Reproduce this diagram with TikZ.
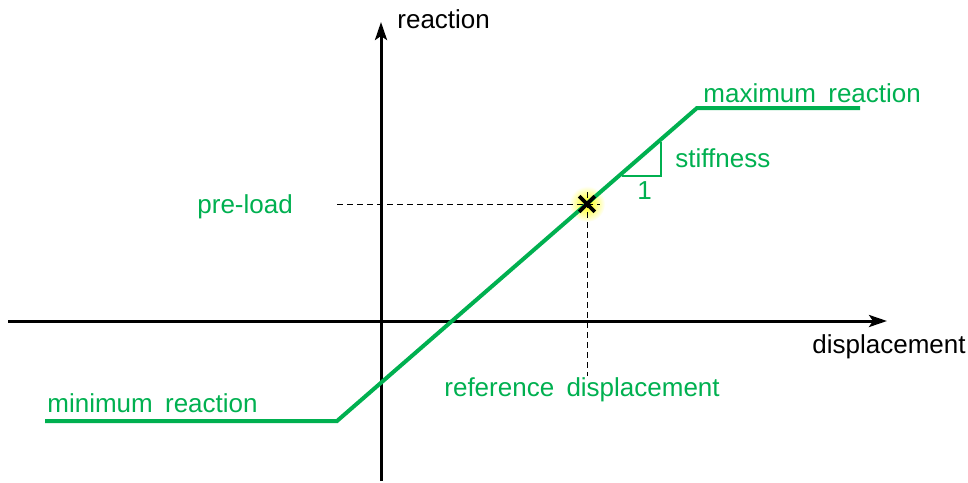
\documentclass[tikz,border=0pt]{standalone}
\usepackage{fontspec}
\setmainfont[WordSpace=1.7]{Liberation Sans}
\usetikzlibrary{arrows.meta, shapes.misc}
\definecolor{curvegreen}{RGB}{0,176,80}
\tikzstyle{axis} = [black, line width=1.5pt, -{Stealth[length=9pt, width=6pt, inset=2pt]}]
\tikzstyle{curve} = [curvegreen, line width=2pt]
\tikzstyle{slope} = [curvegreen, line width=0.6pt]
\tikzstyle{guide} = [black, line width=0.5pt, dash pattern=on 3pt off 2pt]
\tikzstyle{greenlabel} = [text=curvegreen, inner sep=0pt, anchor=base west]
\tikzstyle{blacklabel} = [text=black, inner sep=0pt, anchor=base west]
\tikzstyle{refmark} = [draw=black, cross out, line width=1.8pt, minimum size=6pt, inner sep=0pt]

\begin{document}
\begin{tikzpicture}[x=0.5pt, y=-0.5pt, font=\fontsize{13}{15}\selectfont]

\useasboundingbox (0,0) rectangle (968,482);

\coordinate (ybot) at (381,481);
\coordinate (ytop) at (381,22);
\coordinate (xleft) at (8,321);
\coordinate (xright) at (887,321);

\coordinate (minstart) at (45,421);
\coordinate (minend) at (337,421);
\coordinate (maxstart) at (697,108);
\coordinate (maxend) at (860,108);

\coordinate (ref) at (587,204);
\coordinate (loadstart) at (337,204);
\coordinate (loadend) at (600,204);
\coordinate (dispstart) at (587,192);
\coordinate (dispend) at (587,376);

\coordinate (tri1) at (622,176);
\coordinate (tri2) at (661,176);
\coordinate (tri3) at (661,142);

\shade[inner color=yellow, outer color=white] (ref) circle [radius=9pt];

\draw[guide] (loadstart) to (loadend);
\draw[guide] (dispstart) to (dispend);

\draw[axis] (xleft) to (xright);
\draw[axis] (ybot) to (ytop);

\draw[slope] (tri1) -- (tri2) -- (tri3);
\draw[curve] (minstart) -- (minend) -- (maxstart) -- (maxend);

\node[refmark] (x) at (ref) {};

\node[blacklabel] (reaction) at (397,28) {reaction};
\node[blacklabel] (displacement) at (812,353) {displacement};
\node[greenlabel] (maxlabel) at (703,102) {maximum reaction};
\node[greenlabel] (minlabel) at (47,412) {minimum reaction};
\node[greenlabel] (stiff) at (675,167) {stiffness};
\node[greenlabel] (one) at (637,199) {1};
\node[greenlabel] (preload) at (197,213) {pre-load};
\node[greenlabel] (refdisp) at (444,396) {reference displacement};

\end{tikzpicture}
\end{document}
